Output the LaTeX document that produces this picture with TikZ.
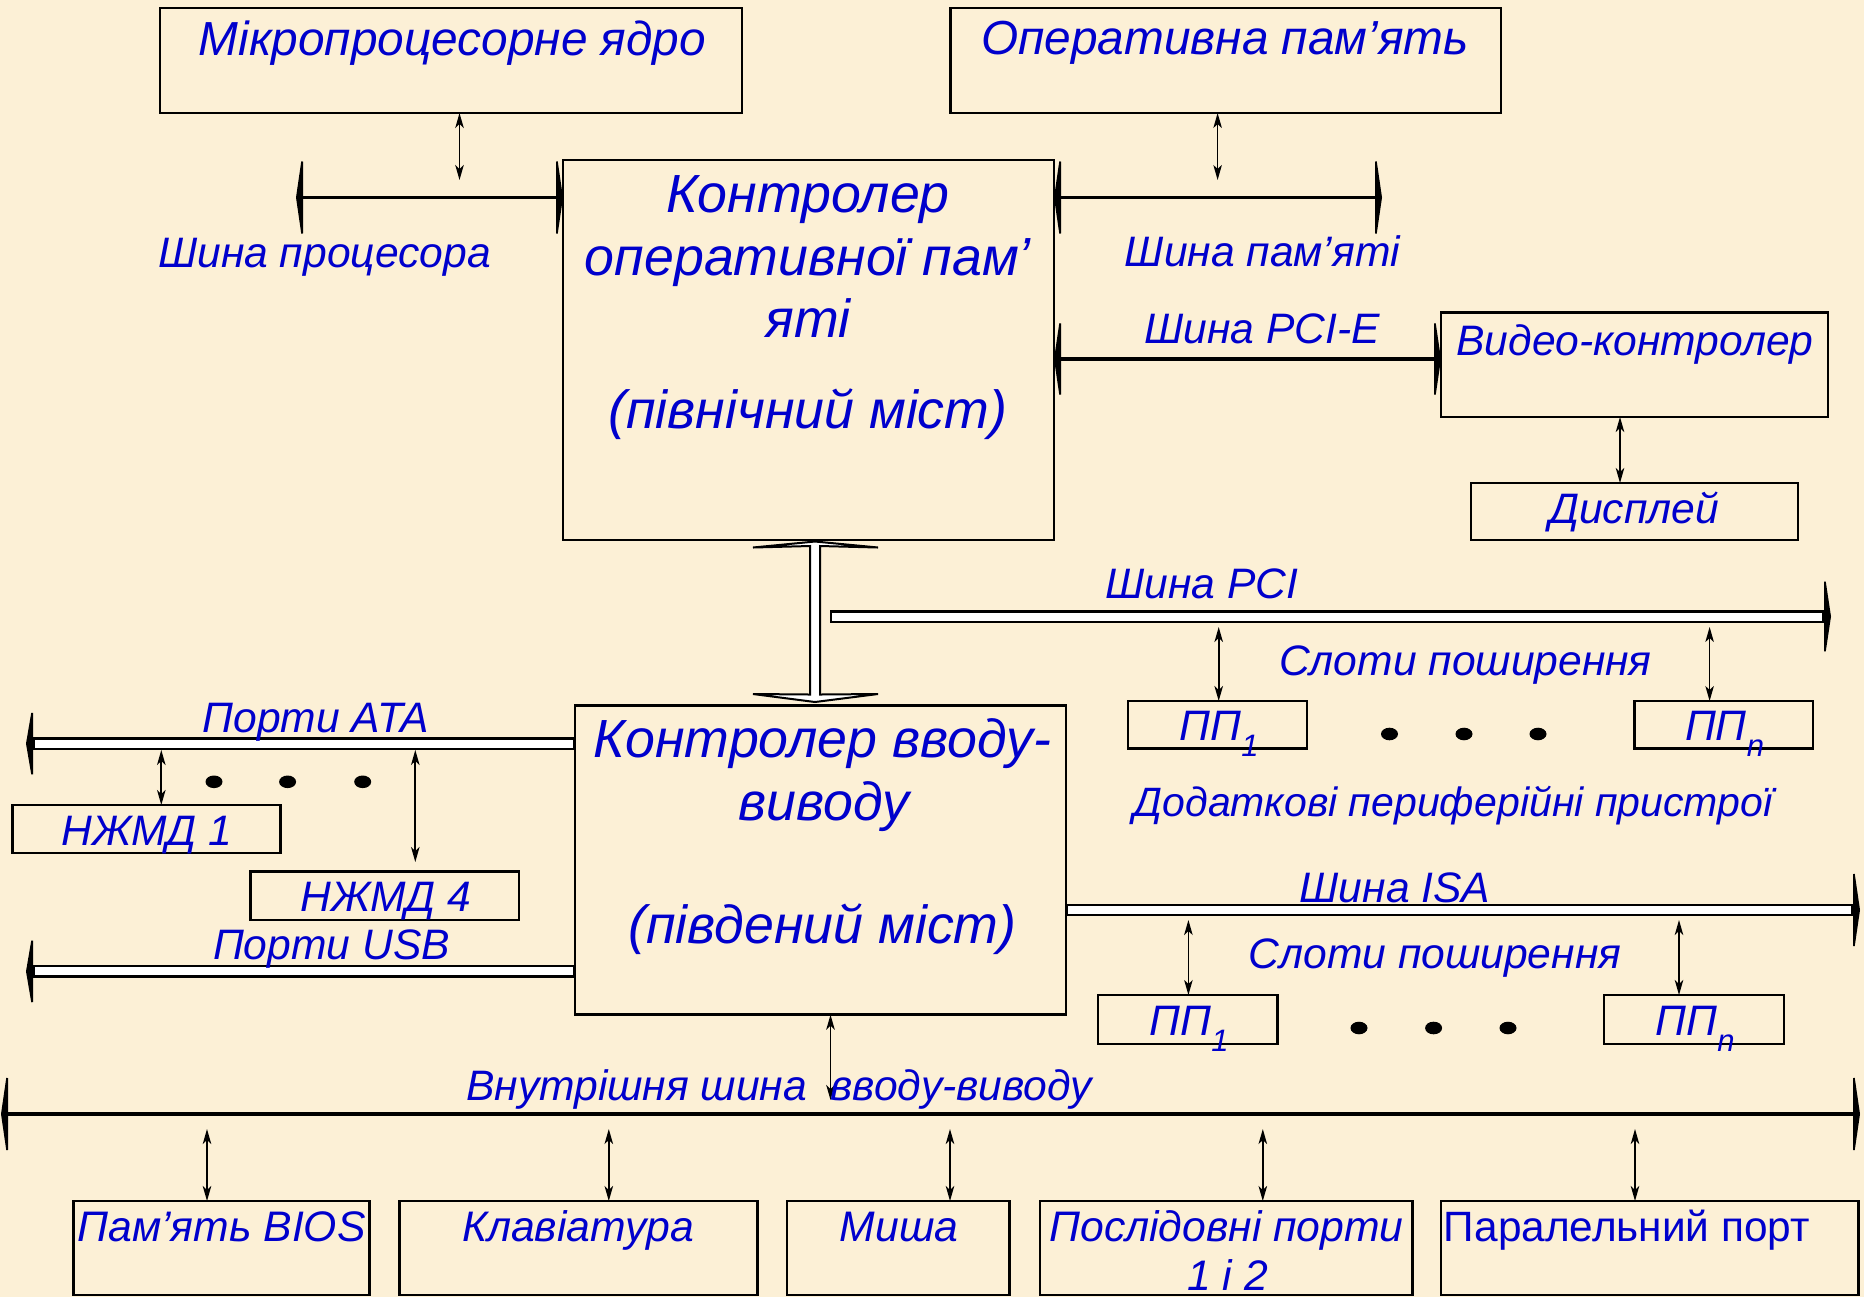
\documentclass[tikz,border=0pt]{standalone}
\usepackage{fontspec}
\setmainfont{Liberation Sans}
\usetikzlibrary{arrows.meta,calc}
\definecolor{bg}{RGB}{252,240,214}
\definecolor{tblue}{RGB}{0,0,204}
\tikzset{
  box/.style={draw=black, line width=2.5bp, fill=bg, inner sep=0pt, outer sep=0pt, anchor=north west},
  lbl/.style={text=tblue, inner sep=0pt, anchor=base, font=\itshape\fontsize{#1bp}{#1bp}\selectfont},
  lbl/.default=42.6,
  ulbl/.style={text=tblue, inner sep=0pt, anchor=base, font=\fontsize{#1bp}{#1bp}\selectfont},
  ulbl/.default=42.4,
  sarrow/.style={line width=1.7bp, {Stealth[length=15bp,width=8.5bp,inset=4bp]}-{Stealth[length=15bp,width=8.5bp,inset=4bp]}},
  bus/.style={line width=3.5bp, {Triangle[length=7bp,width=#1]}-{Triangle[length=7bp,width=#1]}},
  hbar/.style={line width=12.5bp, -{Triangle[length=7bp,width=#1]},
    postaction={draw=white, line width=8bp, -, shorten >=9bp, shorten <=2.2bp}},
  blockarr/.style={draw=black, fill=white, line width=2bp, line join=miter},
  dot/.style={fill=black}
}
\newcommand{\subone}[1]{\raisebox{-16bp}{\fontsize{31bp}{31bp}\selectfont #1}}
\begin{document}
\begin{tikzpicture}[x=1bp,y=-1bp]
\fill[bg] (0,0) rectangle (1864,1297);
\useasboundingbox (0,0) rectangle (1864,1297);

% ---------- boxes ----------
\node[box, minimum width=582bp, minimum height=105bp] (cpu) at (160,8) {};
\node[box, minimum width=550.5bp, minimum height=105bp] (mem) at (950.5,8) {};
\node[box, minimum width=491bp, minimum height=380bp] (nb) at (563,160) {};
\node[box, minimum width=387bp, minimum height=104.5bp] (video) at (1441,312.5) {};
\node[box, minimum width=327bp, minimum height=57bp] (disp) at (1471,483) {};
\node[box, minimum width=179bp, minimum height=47.6bp] (pci1) at (1128,701) {};
\node[box, minimum width=178.3bp, minimum height=47.6bp] (pcin) at (1634.7,701) {};
\node[box, minimum width=491bp, minimum height=309bp] (sb) at (575,705.7) {};
\node[box, minimum width=268bp, minimum height=48bp] (hdd1) at (12.6,805) {};
\node[box, minimum width=268.6bp, minimum height=48.6bp] (hdd4) at (250.4,871.4) {};
\node[box, minimum width=179.7bp, minimum height=49bp] (isa1) at (1098,995) {};
\node[box, minimum width=180bp, minimum height=49bp] (isan) at (1604,995) {};
\node[box, minimum width=296bp, minimum height=94bp] (bios) at (73.7,1201) {};
\node[box, minimum width=358bp, minimum height=94bp] (kbd) at (399.5,1201) {};
\node[box, minimum width=222.5bp, minimum height=94bp] (mouse) at (787,1201) {};
\node[box, minimum width=372.6bp, minimum height=94bp] (ser) at (1040,1201) {};
\node[box, minimum width=417.5bp, minimum height=94bp] (par) at (1441,1201) {};

% ---------- free bus end points ----------
\coordinate (cpubusL) at (296,197.5);
\coordinate (membusR) at (1382,197.5);
\coordinate (pciA) at (830,616.5);
\coordinate (pciB) at (1831,616.5);
\coordinate (isaB) at (1860,910);
\coordinate (ataL) at (26,743.6);
\coordinate (usbL) at (26,971.4);
\coordinate (ibL) at (1,1114);
\coordinate (ibR) at (1860,1114);

% ---------- buses ----------
\draw[bus=96bp] (cpubusL) -- (nb.west |- cpubusL);
\draw[bus=96bp] (nb.east |- membusR) -- (membusR);
\draw[bus=95bp] (nb.east |- 0,359) -- (video.west |- 0,359);
\draw[bus=96bp] (ibL) -- (ibR);
\draw[hbar=93bp] (pciA) -- (pciB);
\draw[hbar=96bp] (sb.east |- isaB) -- (isaB);
\draw[hbar=82bp] (sb.west |- ataL) -- (ataL);
\draw[hbar=82bp] (sb.west |- usbL) -- (usbL);

% ---------- block arrow north bridge <-> south bridge ----------
\draw[blockarr] ($(nb.south -| 815,0)+(0,1.5)$) -- ++(-62,6) -- ++(57,-1.5) -- ++(0,148.5)
  -- ++(-57,-0.5) -- ++(62,8) -- ++(63,-8) -- ++(-58,0.5) -- ++(0,-148.5) -- ++(58,1.5) -- cycle;

% ---------- small double arrows ----------
\draw[sarrow] (459.5,0 |- cpu.south) -- (459.5,180);
\draw[sarrow] (1217.6,0 |- mem.south) -- (1217.6,180);
\draw[sarrow] (1620,0 |- video.south) -- (1620,0 |- disp.north);
\draw[sarrow] (1218.7,627) -- (1218.7,0 |- pci1.north);
\draw[sarrow] (1709.6,627) -- (1709.6,0 |- pcin.north);
\draw[sarrow] (1188.4,920) -- (1188.4,0 |- isa1.north);
\draw[sarrow] (1679,920) -- (1679,0 |- isan.north);
\draw[sarrow] (161.3,750) -- (161.3,0 |- hdd1.north);
\draw[sarrow] (415.3,750) -- (415.3,862);
\draw[sarrow] (830.5,0 |- sb.south) -- (830.5,1100);
\draw[sarrow] (207,1129) -- (207,0 |- bios.north);
\draw[sarrow] (608.8,1129) -- (608.8,0 |- kbd.north);
\draw[sarrow] (950,1129) -- (950,0 |- mouse.north);
\draw[sarrow] (1262.8,1129) -- (1262.8,0 |- ser.north);
\draw[sarrow] (1635,1129) -- (1635,0 |- par.north);

% ---------- dots ----------
\foreach \x in {1389.5,1464,1538} \fill[dot] (\x,734) ellipse [x radius=8.5, y radius=6.3];
\foreach \x in {1359,1433.6,1508} \fill[dot] (\x,1028) ellipse [x radius=8.5, y radius=6.3];
\foreach \x in {214,287.6,362.7} \fill[dot] (\x,781.8) ellipse [x radius=8.5, y radius=6.3];

% ---------- labels ----------
\node[lbl=47.8] (t-cpu) at (452.5,55.5) {Мікропроцесорне ядро};
\node[lbl=47.8] (t-mem) at (1225,54) {Оперативна пам’ять};
\node[lbl] (t-cpubus) at (324.5,267) {Шина процесора};
\node[lbl] (t-membus) at (1262.5,266) {Шина пам’яті};
\node[lbl] (t-pcie) at (1262,343) {Шина PCI-E};
\node[lbl=53.7] (t-nb1) at (808,212.5) {Контролер};
\node[lbl=53.7] (t-nb2) at (808,275) {оперативної пам’};
\node[lbl=53.7] (t-nb3) at (808,337.5) {яті};
\node[lbl=53.7] (t-nb4) at (808,428.6) {(північний міст)};
\node[lbl] (t-video) at (1635,355) {Видео-контролер};
\node[lbl] (t-disp) at (1634,523) {Дисплей};
\node[lbl] (t-pci) at (1202,598.6) {Шина PCI};
\node[lbl] (t-slot1) at (1465.5,675) {Слоти поширення};
\node[lbl] (t-pci1) at (1219,740.7) {ПП\subone{1}};
\node[lbl] (t-pcin) at (1724.5,740.7) {ПП\subone{n}};
\node[lbl=41] (t-extra) at (1453,816) {Додаткові периферійні пристрої};
\node[lbl] (t-isa) at (1395,902) {Шина ISA};
\node[lbl] (t-slot2) at (1435,968) {Слоти поширення};
\node[lbl] (t-isa1) at (1189,1035) {ПП\subone{1}};
\node[lbl] (t-isan) at (1695,1035) {ПП\subone{n}};
\node[lbl] (t-ata) at (315.5,732.5) {Порти ATA};
\node[lbl] (t-hdd1) at (147,845.7) {НЖМД 1};
\node[lbl] (t-hdd4) at (386,911.8) {НЖМД 4};
\node[lbl] (t-usb) at (331.5,959) {Порти USB};
\node[lbl=53.7] (t-sb1) at (822.5,757.5) {Контролер вводу-};
\node[lbl=53.7] (t-sb2) at (824,820) {виводу};
\node[lbl=53.7] (t-sb3) at (822.5,943) {(південий міст)};
\node[lbl] (t-ib) at (779,1100) {Внутрішня шина\ \ вводу-виводу};
\node[lbl=42.7] (t-bios) at (221.5,1241.7) {Пам’ять BIOS};
\node[lbl=42.7] (t-kbd) at (578,1241.7) {Клавіатура};
\node[lbl=42.7] (t-mouse) at (899,1241.7) {Миша};
\node[lbl=42.7] (t-ser1) at (1226.5,1241.7) {Послідовні порти};
\node[lbl=42.7] (t-ser2) at (1227.5,1290) {1 і 2};
\node[ulbl] (t-par) at (1627,1241.7) {Паралельний порт};
\end{tikzpicture}
\end{document}
